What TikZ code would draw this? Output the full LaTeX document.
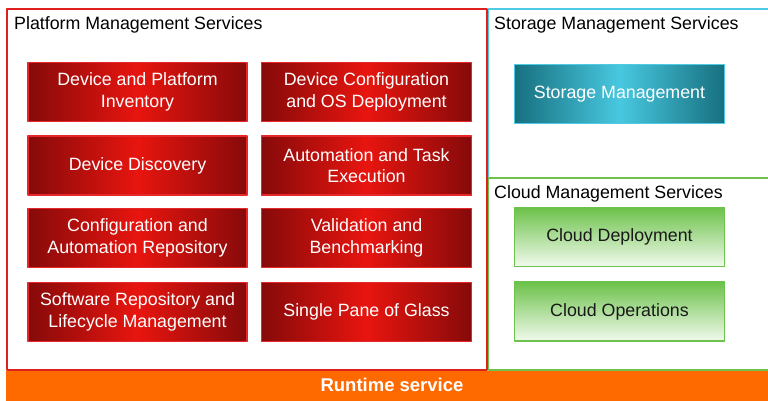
\documentclass[tikz,border=0pt]{standalone}
\usepackage{fontspec}
\setmainfont{Liberation Sans}
\definecolor{platred}{HTML}{E0201E}
\definecolor{boxdark}{HTML}{860A0A}
\definecolor{boxbright}{HTML}{E8150F}
\definecolor{boxline}{HTML}{E6282A}
\definecolor{storcyan}{HTML}{4FCAE4}
\definecolor{tealdark}{HTML}{17707F}
\definecolor{tealbright}{HTML}{48C8E0}
\definecolor{cloudgreen}{HTML}{6CC24A}
\definecolor{cloudlight}{HTML}{F2FAEE}
\definecolor{runorange}{HTML}{FF6A00}
\begin{document}
\begin{tikzpicture}[x=1pt, y=-1pt, line join=round,
  font=\fontsize{17.8}{21.5}\selectfont,
  title/.style={anchor=base west, inner sep=0pt, text=black},
  svcbox/.style={minimum width=219pt, minimum height=59pt, inner sep=2pt, align=center, line width=1.2pt},
  redbox/.style={svcbox, draw=boxline, left color=boxdark, right color=boxdark, middle color=boxbright, text=white},
  narrow/.style={minimum width=210pt},
  tealbox/.style={svcbox, narrow, draw=storcyan, left color=tealdark, right color=tealdark, middle color=tealbright, text=white},
  greenbox/.style={svcbox, narrow, draw=cloudgreen, top color=cloudgreen, bottom color=cloudlight, text=black!90}]
\def \colA{137.5};
\def \colB{366.5};
\def \colC{619.5};
\useasboundingbox (0,0) rectangle (768,400);
% frames
\draw[platred, line width=1.6pt] (7,9) rectangle (487,370);
\draw[storcyan, line width=1.6pt] (488.5,9) rectangle (772,178);
\draw[cloudgreen, line width=1.6pt] (488.5,178) rectangle (772,370);
\fill[runorange] (6,370.5) rectangle (772,404);
\node[title] (platT) at (14,29) {Platform Management Services};
\node[title] (storT) at (494,29) {Storage Management Services};
\node[title] (cloudT) at (494,198.5) {Cloud Management Services};
% platform services
\node[redbox] (inv) at (\colA,92) {Device and Platform\\Inventory};
\node[redbox, narrow] (osdep) at (\colB,92) {Device Configuration\\and OS Deployment};
\node[redbox] (disc) at (\colA,165.5) {Device Discovery};
\node[redbox, narrow] (auto) at (\colB,165.5) {Automation and Task\\Execution};
\node[redbox] (repo) at (\colA,238) {Configuration and\\Automation Repository};
\node[redbox, narrow] (bench) at (\colB,238) {Validation and\\Benchmarking};
\node[redbox] (swrepo) at (\colA,312) {Software Repository and\\Lifecycle Management};
\node[redbox, narrow] (glass) at (\colB,312) {Single Pane of Glass};
% storage and cloud
\node[tealbox] (stor) at (\colC,94) {Storage Management};
\node[greenbox] (cdep) at (\colC,237) {Cloud Deployment};
\node[greenbox] (cops) at (\colC,311.5) {Cloud Operations};
\node[text=white, font=\fontsize{18.5}{22}\selectfont\bfseries] (run) at (392,385) {Runtime service};
\end{tikzpicture}
\end{document}
